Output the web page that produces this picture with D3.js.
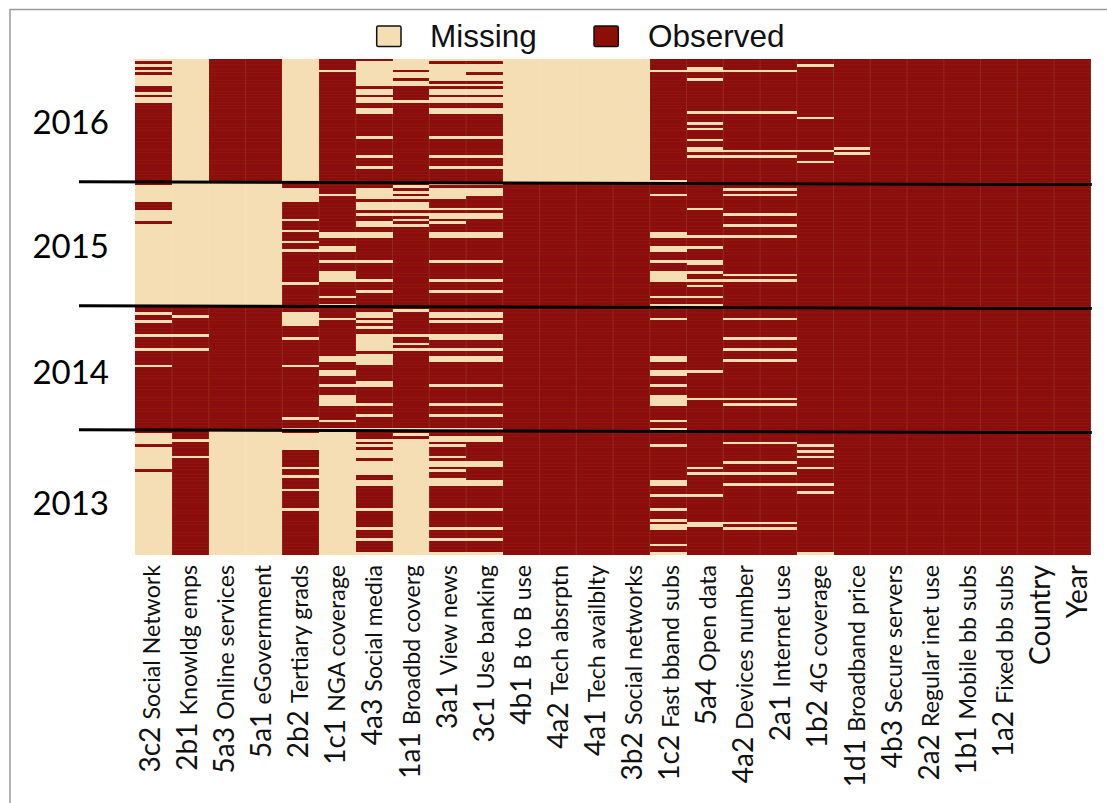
<!DOCTYPE html>
<html><head><meta charset="utf-8">
<script src="https://cdnjs.cloudflare.com/ajax/libs/d3/7.8.5/d3.min.js"></script>
<style>html,body{margin:0;padding:0;background:#fff}svg{display:block}</style>
</head><body><svg id="c" width="1107" height="803"></svg>
<script>
const codes = ["3c2","2b1","5a3","5a1","2b2","1c1","4a3","1a1","3a1","3c1","4b1","4a2","4a1","3b2","1c2","5a4","4a2","2a1","1b2","1d1","4b3","2a2","1b1","1a2","",""];
const names = ["Social Network","Knowldg emps","Online services","eGovernment","Tertiary grads","NGA coverage","Social media","Broadbd coverg","View news","Use banking","B to B use","Tech absrptn","Tech availblty","Social networks","Fast bband subs","Open data","Devices number","Internet use","4G coverage","Broadband price","Secure servers","Regular inet use","Mobile bb subs","Fixed bb subs","Country","Year"];
const years = ["2016","2015","2014","2013"];
const rowsPerYear = 45;
const legendLabels = ["Missing","Observed"];

// Missing runs per indicator, [first row, last row]; row 0 is the top row of the map.
const miss3c2 = [[0,0],[2,2],[4,4],[6,9],[12,12],[14,15],[46,51],[55,58],[60,89],[92,92],[95,95],[100,100],[105,105],[111,111],[136,139],[141,148],[150,179]];
const miss2b1 = [[0,89],[93,93],[100,100],[105,105],[138,138],[144,144]];
const miss5a3 = [[45,89],[135,179]];
const miss5a1 = [[45,89],[135,179]];
const miss2b2 = [[0,44],[47,51],[58,58],[62,62],[66,66],[69,69],[81,81],[92,96],[101,101],[111,111],[130,130],[134,134],[136,141],[148,148],[151,151],[156,156],[163,163]];
const miss1c1 = [[4,4],[49,49],[63,64],[68,69],[73,73],[77,80],[86,86],[89,89],[94,94],[108,109],[113,114],[118,118],[122,125],[131,131],[134,179]];
const miss4a3 = [[1,9],[11,12],[14,15],[18,19],[28,28],[35,35],[39,39],[47,50],[52,54],[56,56],[59,60],[63,64],[73,73],[80,80],[84,84],[92,93],[95,95],[97,97],[100,100],[101,105],[107,110],[117,118],[125,125],[129,129],[134,134],[138,138],[140,140],[142,144],[146,150],[153,154],[163,163],[170,170],[174,174],[179,179]];
const miss1a1 = [[0,3],[5,6],[8,9],[15,15],[46,46],[48,48],[50,50],[52,54],[56,56],[58,58],[60,60],[91,91],[100,100],[103,103],[105,105],[134,134],[136,136],[138,179]];
const miss3a1 = [[0,0],[2,7],[9,9],[11,12],[14,15],[18,19],[28,28],[35,35],[39,39],[45,45],[47,50],[54,54],[56,57],[59,59],[63,64],[73,73],[80,80],[84,84],[92,93],[95,95],[100,101],[105,105],[108,109],[118,118],[125,125],[129,129],[134,134],[137,138],[140,140],[144,144],[146,147],[149,149],[152,154],[163,163],[170,170],[174,174],[179,179]];
const miss3c1 = [[0,0],[2,4],[6,7],[9,9],[11,12],[14,15],[18,19],[28,28],[35,35],[39,39],[45,45],[47,49],[54,54],[56,57],[63,64],[73,73],[80,80],[84,84],[92,93],[95,95],[100,101],[105,105],[108,109],[118,118],[125,125],[129,129],[134,134],[137,138],[146,147],[153,154],[163,163],[170,170],[174,174],[179,179]];
const miss4b1 = [[0,44]];
const miss4a2t = [[0,44]];
const miss4a1 = [[0,44]];
const miss3b2 = [[0,44]];
const miss1c2 = [[4,4],[44,44],[49,49],[63,64],[68,69],[73,73],[77,80],[86,86],[89,89],[94,94],[108,109],[113,114],[118,118],[122,125],[131,131],[134,134],[140,140],[153,154],[158,158],[163,163],[167,167],[169,170],[176,176],[179,179]];
const miss5a4 = [[3,4],[7,7],[19,19],[23,23],[25,25],[29,29],[32,33],[35,35],[54,54],[64,64],[68,68],[73,74],[77,77],[80,80],[82,82],[86,86],[89,89],[113,113],[123,123],[148,148],[150,150],[158,158],[168,169]];
const miss4a2d = [[4,4],[19,19],[33,33],[35,35],[47,47],[49,49],[56,56],[60,60],[64,64],[78,78],[80,80],[94,94],[101,101],[105,105],[109,109],[123,123],[125,125],[139,139],[146,146],[150,150],[154,154],[168,168],[170,170]];
const miss2a1 = [[4,4],[19,19],[33,33],[35,35],[47,47],[49,49],[56,56],[60,60],[64,64],[78,78],[80,80],[94,94],[101,101],[105,105],[109,109],[123,123],[125,125],[139,139],[146,146],[150,150],[154,154],[168,168],[170,170]];
const miss1b2 = [[2,2],[21,21],[33,33],[37,37],[140,140],[142,142],[144,144],[148,148],[154,154],[157,157],[179,179]];
const miss1d1 = [[32,32],[34,34]];
const missingRuns = [miss3c2,miss2b1,miss5a3,miss5a1,miss2b2,miss1c1,miss4a3,miss1a1,miss3a1,miss3c1,miss4b1,miss4a2t,miss4a1,miss3b2,miss1c2,miss5a4,miss4a2d,miss2a1,miss1b2,miss1d1,[],[],[],[],[],[]];

const RED = "#8B0F07", WHEAT = "#F5DEB3";
const svg = d3.select("#c");
const nRows = rowsPerYear * years.length;

// page frame: top and left edges only
svg.append("path").attr("d","M10,803V9.5H1107").attr("fill","none").attr("stroke","#9a9a9a").attr("stroke-width",1.5);

const defs = svg.append("defs");
defs.append("filter").attr("id","soft").attr("x","-1%").attr("y","-1%").attr("width","102%").attr("height","102%")
  .append("feGaussianBlur").attr("stdDeviation",0.55);

const x = d3.scaleBand().domain(d3.range(names.length)).range([135.3,1090.8]);
const y = d3.scaleBand().domain(d3.range(nRows)).range([58.7,554.7]);

const color = d3.scaleOrdinal().domain([true,false]).range([WHEAT,RED]);
const cells = [];
missingRuns.forEach((runs,c)=>{
  const isMissing = new Set(runs.flatMap(([a,b])=>d3.range(a,b+1)));
  d3.range(nRows).forEach(r=>cells.push({c,r,m:isMissing.has(r)}));
});
const map = svg.append("g").attr("filter","url(#soft)");
map.selectAll("rect").data(cells).join("rect")
  .attr("x",d=>x(d.c)).attr("y",d=>y(d.r))
  .attr("width",x.bandwidth()).attr("height",y.bandwidth())
  .attr("shape-rendering","crispEdges")
  .attr("fill",d=>color(d.m));

// faint column seams
map.selectAll("line.seam").data(d3.range(1,names.length+1)).join("line").attr("class","seam")
  .attr("x1",d=>x(d)||x.range()[1]).attr("x2",d=>x(d)||x.range()[1]).attr("y1",y.range()[0]).attr("y2",y.range()[1])
  .attr("stroke","#fff").attr("stroke-opacity",0.1).attr("stroke-width",1);
// faint row texture
map.selectAll("line.rowline").data(d3.range(1,nRows)).join("line").attr("class","rowline")
  .attr("x1",x.range()[0]).attr("x2",x.range()[1]).attr("y1",d=>y(d)).attr("y2",d=>y(d))
  .attr("stroke","#fff").attr("stroke-opacity",0.035).attr("stroke-width",0.7);

// year separators (slightly tilted, hand-placed in the reference)
svg.selectAll("line.sep").data(d3.range(1,years.length)).join("line").attr("class","sep")
  .attr("x1",79).attr("x2",x.range()[1]+1)
  .attr("y1",d=>y(d*rowsPerYear)-1).attr("y2",d=>y(d*rowsPerYear)+1.9)
  .attr("stroke","#000").attr("stroke-width",3);

// year labels
const yearPos = d3.scaleOrdinal().domain(years).range([122,246,372,503]);
const yAxis = d3.axisLeft(yearPos).tickSize(0).tickPadding(0);
const yg = svg.append("g").attr("transform","translate(109,0)").call(yAxis);
yg.select(".domain").remove();
yg.selectAll("text").attr("font-family","Lato, Carlito, sans-serif").attr("font-size",33).attr("fill","#000")
  .attr("dy","0.35em");

// x labels
const labelX = d3.scaleLinear().domain([0,names.length-1]).range([160,1087]);
const lab = svg.append("g").selectAll("text").data(names).join("text")
  .attr("transform",(d,i)=>`translate(${labelX(i)},565) rotate(-90)`)
  .attr("text-anchor","end").attr("font-family","Lato, Carlito, sans-serif").attr("fill","#111");
lab.each(function(d,i){
  const t = d3.select(this);
  if(codes[i]){
    t.append("tspan").attr("font-size",28).text(codes[i]+" ");
    t.append("tspan").attr("font-size",23.2).text(d);
  } else {
    t.append("tspan").attr("font-size",28).text(d);
  }
});

// legend
const legX = [376.7,594];
const legText = [430,648];
const leg = svg.append("g").selectAll("g").data(legendLabels).join("g");
leg.append("rect").attr("x",(d,i)=>legX[i]).attr("y",26).attr("width",24.3).attr("height",20.5).attr("rx",1.5)
  .attr("fill",(d,i)=>i===0?WHEAT:RED).attr("stroke","#111").attr("stroke-width",1.5);
leg.append("text").attr("x",(d,i)=>legText[i]).attr("y",47).attr("font-family","'Liberation Sans', Arial, sans-serif")
  .attr("font-size",31.5).attr("fill","#111").text(d=>d);
</script></body></html>
